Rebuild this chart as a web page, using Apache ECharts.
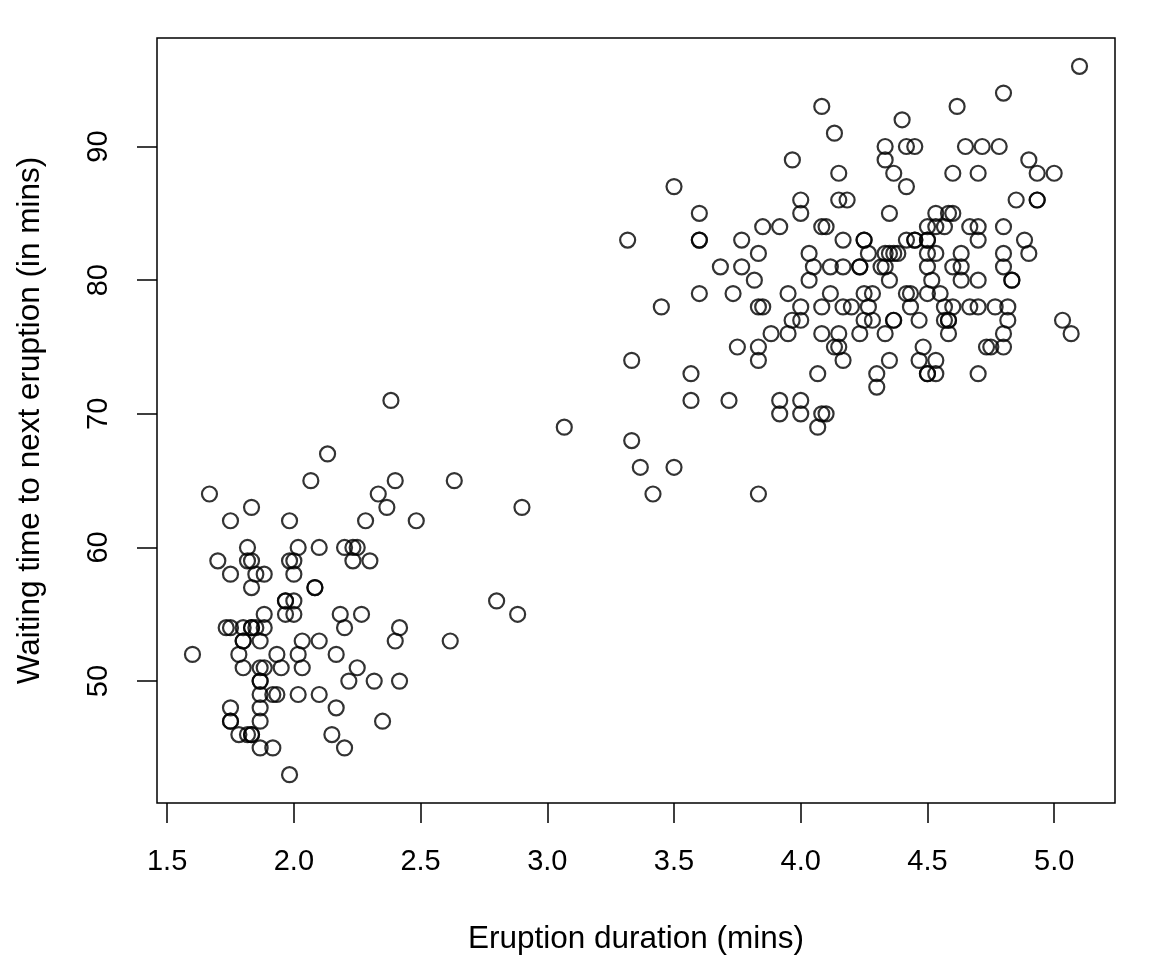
<!DOCTYPE html>
<html>
<head>
<meta charset="utf-8">
<script src="https://cdn.jsdelivr.net/npm/echarts@6/dist/echarts.min.js"></script>
<style>html,body{margin:0;padding:0;background:#fff}#c{width:1152px;height:960px}</style>
</head>
<body>
<div id="c"></div>
<script>
const eruptions = [3.600,1.800,3.333,2.283,4.533,2.883,4.700,3.600,1.950,4.350,1.833,3.917,4.200,1.750,4.700,2.167,1.750,4.800,1.600,4.250,1.800,1.750,3.450,3.067,4.533,3.600,1.967,4.083,3.850,4.433,4.300,4.467,3.367,4.033,3.833,2.017,1.867,4.833,1.833,4.783,4.350,1.883,4.567,1.750,4.533,3.317,3.833,2.100,4.633,2.000,4.800,4.716,1.833,4.833,1.733,4.883,3.717,1.667,4.567,4.317,2.233,4.500,1.750,4.800,1.817,4.400,4.167,4.700,2.067,4.700,4.033,1.967,4.500,4.000,1.983,5.067,2.017,4.567,3.883,3.600,4.133,4.333,4.100,2.633,4.067,4.933,3.950,4.517,2.167,4.000,2.200,4.333,1.867,4.817,1.833,4.300,4.667,3.750,1.867,4.900,2.483,4.367,2.100,4.500,4.050,1.867,4.700,1.783,4.850,3.683,4.733,2.300,4.900,4.417,1.700,4.633,2.317,4.600,1.817,4.417,2.617,4.067,4.250,1.967,4.600,3.767,1.917,4.500,2.267,4.650,1.867,4.167,2.800,4.333,1.833,4.383,1.883,4.933,2.033,3.733,4.233,2.233,4.533,4.817,4.333,1.983,4.633,2.017,5.100,1.800,5.033,4.000,2.400,4.600,3.567,4.000,4.500,4.083,1.800,3.967,2.200,4.150,2.000,3.833,3.500,4.583,2.367,5.000,1.933,4.617,1.917,2.083,4.583,3.333,4.167,4.333,4.500,2.417,4.000,4.167,1.883,4.583,4.250,3.767,2.033,4.433,4.083,1.833,4.417,2.183,4.800,1.833,4.800,4.100,3.966,4.233,3.500,4.366,2.250,4.667,2.100,4.350,4.133,1.867,4.600,1.783,4.367,3.850,1.933,4.500,2.383,4.700,1.867,3.833,3.417,4.233,2.400,4.800,2.000,4.150,1.867,4.267,1.750,4.483,4.000,4.117,4.083,4.267,3.917,4.550,4.083,2.417,4.183,2.217,4.450,1.883,1.850,4.283,3.950,2.333,4.150,2.350,4.933,2.900,4.583,3.833,2.083,4.367,2.133,4.350,2.200,4.450,3.567,4.500,4.150,3.817,3.917,4.450,2.000,4.283,4.767,4.533,1.850,4.250,1.983,2.250,4.750,4.117,2.150,4.417,1.817,4.467];
const waiting = [79,54,74,62,85,55,88,85,51,85,54,84,78,47,83,52,62,84,52,79,51,47,78,69,74,83,55,76,78,79,73,77,66,80,74,52,48,80,59,90,80,58,84,58,73,83,64,53,82,59,75,90,54,80,54,83,71,64,77,81,59,84,48,82,60,92,78,78,65,73,82,56,79,71,62,76,60,78,76,83,75,82,70,65,73,88,76,80,48,86,60,90,50,78,63,72,84,75,51,82,62,88,49,83,81,47,84,52,86,81,75,59,89,79,59,81,50,85,59,87,53,69,77,56,88,81,45,82,55,90,45,83,56,89,46,82,51,86,53,79,81,60,82,77,76,59,80,49,96,53,77,77,65,81,71,70,81,93,53,89,45,86,58,78,66,76,63,88,52,93,49,57,77,68,81,81,73,50,85,74,55,77,83,83,51,78,84,46,83,55,81,57,76,84,77,81,87,77,51,78,60,82,91,53,78,46,77,84,49,83,71,80,49,75,64,76,53,94,55,76,50,82,54,75,78,79,78,78,70,79,70,54,86,50,90,54,54,77,79,64,75,47,86,63,85,82,57,82,67,74,54,83,73,73,88,80,71,83,56,79,78,84,58,83,43,60,75,81,46,90,46,74];
const xTicks = [1.5, 2.0, 2.5, 3.0, 3.5, 4.0, 4.5, 5.0];
const yTicks = [50, 60, 70, 80, 90];
const xTitle = 'Eruption duration (mins)';
const yTitle = 'Waiting time to next eruption (in mins)';

const points = eruptions.map((e, i) => [e, waiting[i]]);
const font = 'Liberation Sans, Arial, Helvetica, sans-serif';
const chart = echarts.init(document.getElementById('c'), null, {renderer: 'canvas'});
chart.setOption({
  backgroundColor: '#ffffff',
  animation: false,
  grid: {left: 157, right: 37, top: 38, bottom: 155, show: true, borderColor: '#000', borderWidth: 1.5, backgroundColor: 'transparent'},
  xAxis: {
    type: 'value', min: 1.46, max: 5.24,
    splitLine: {show: false},
    axisLine: {show: false},
    axisTick: {show: true, customValues: xTicks, length: 20, inside: false, lineStyle: {color: '#000', width: 1.5}},
    axisLabel: {customValues: xTicks, margin: 44, color: '#000', fontSize: 29, fontFamily: font, formatter: v => Number(v).toFixed(1)},
    name: xTitle, nameLocation: 'middle', nameGap: 120,
    nameTextStyle: {color: '#000', fontSize: 31.5, fontFamily: font}
  },
  yAxis: {
    type: 'value', min: 40.88, max: 98.12,
    splitLine: {show: false},
    axisLine: {show: false},
    axisTick: {show: true, customValues: yTicks, length: 20, inside: false, lineStyle: {color: '#000', width: 1.5}},
    axisLabel: {customValues: yTicks, margin: 44, rotate: 90, color: '#000', fontSize: 29, fontFamily: font, formatter: v => String(v)},
    name: yTitle, nameLocation: 'middle', nameGap: 111, nameRotate: 90,
    nameTextStyle: {color: '#000', fontSize: 31.5, fontFamily: font}
  },
  series: [{
    type: 'scatter',
    data: points,
    symbol: 'circle',
    symbolSize: 15,
    itemStyle: {color: 'rgba(0,0,0,0)', borderColor: '#000', borderWidth: 2.2},
    emphasis: {disabled: true}
  }]
});
</script>
</body>
</html>
